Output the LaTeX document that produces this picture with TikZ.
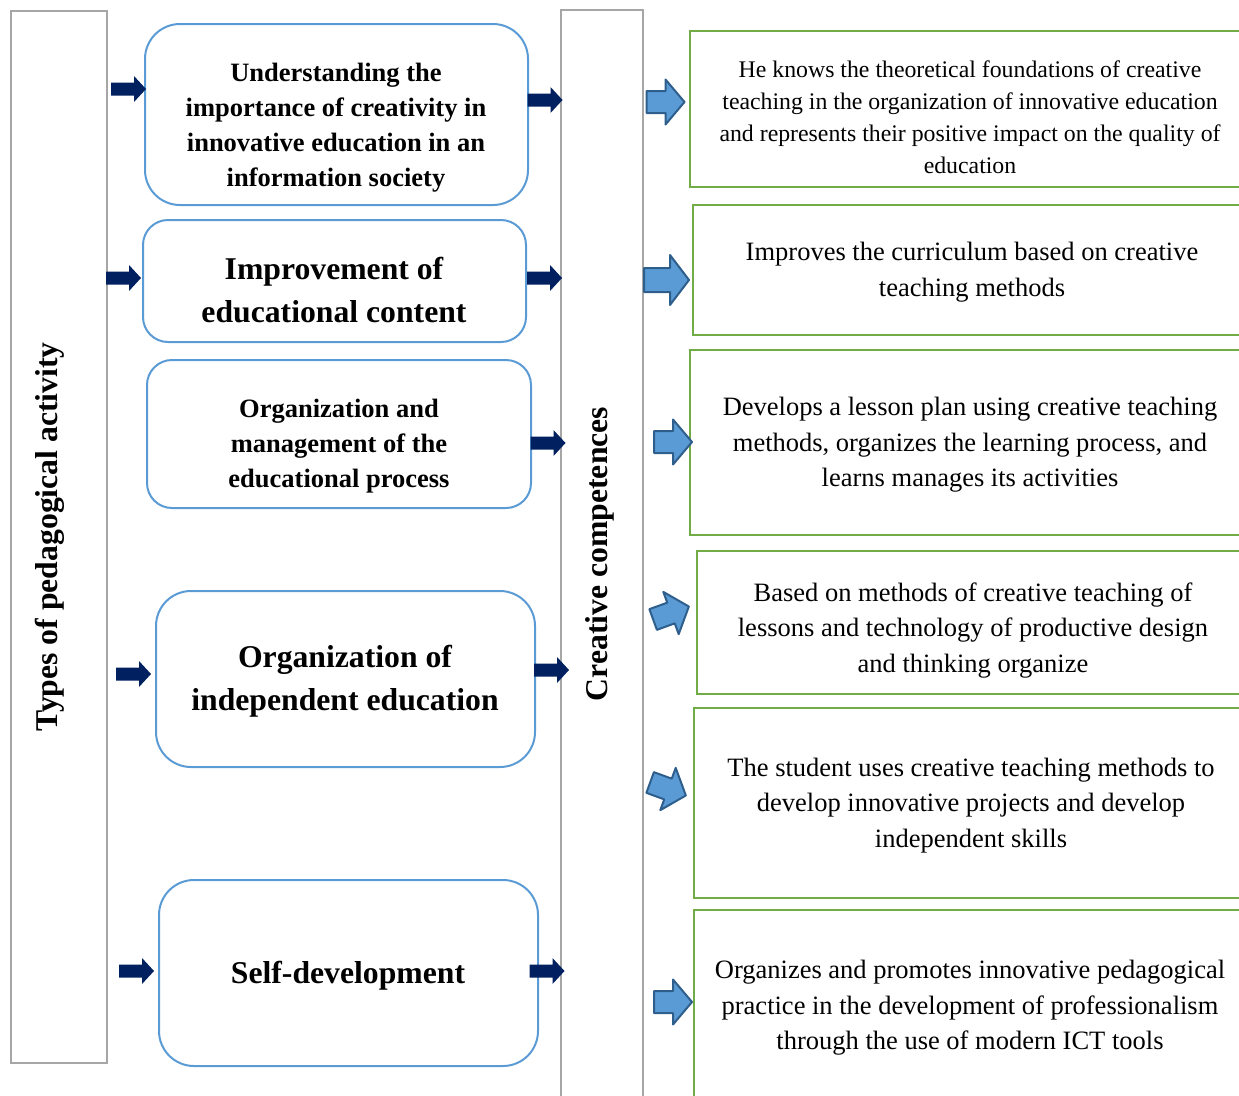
\documentclass[tikz,border=0pt]{standalone}
\usepackage{fontspec}
\setmainfont{Liberation Serif}
\definecolor{grayline}{HTML}{A6A6A6}
\definecolor{boxblue}{HTML}{5B9BD5}
\definecolor{boxgreen}{HTML}{70AD47}
\definecolor{navy}{HTML}{002060}
\definecolor{arrblue}{HTML}{5B9BD5}
\definecolor{arrdark}{HTML}{2E5E8C}
\tikzset{
  graybox/.style={draw=grayline, line width=2pt, inner sep=0pt},
  bluebox/.style={draw=boxblue, line width=2pt, inner sep=0pt},
  greenbox/.style={draw=boxgreen, line width=2pt, inner sep=0pt},
  btext/.style={align=center, inner sep=0pt, font=\bfseries\fontsize{26.5}{35}\selectfont},
  bigtext/.style={align=center, inner sep=0pt, font=\bfseries\fontsize{31.7}{43}\selectfont},
  gtext/.style={align=center, inner sep=0pt, font=\fontsize{26.5}{35.5}\selectfont},
  arrline/.style={fill=arrblue, draw=arrdark, line width=2pt, line join=round},
  navyarrow/.pic={\fill[navy] (-17.5,-6.5) -- (5.5,-6.5) -- (5.5,-13) -- (17.5,0) -- (5.5,13) -- (5.5,6.5) -- (-17.5,6.5) -- cycle;},
  bluearrow/.pic={\filldraw[arrline] (-19,-11) -- (0,-11) -- (0,-22.5) -- (19,0) -- (0,22.5) -- (0,11) -- (-19,11) -- cycle;},
  bigbluearrow/.pic={\filldraw[arrline] (-22.5,-12) -- (3.5,-12) -- (3.5,-25) -- (22.5,0) -- (3.5,25) -- (3.5,12) -- (-22.5,12) -- cycle;}
}
\begin{document}
\begin{tikzpicture}[x=1pt, y=-1pt]
\useasboundingbox (0,0) rectangle (1239,1095);
% gray columns
\node[graybox, minimum width=96, minimum height=1052] (left) at (59,537) {};
\node[rotate=90, inner sep=0pt, font=\bfseries\fontsize{31.7}{38}\selectfont] (lefttxt) at (50,537) {Types of pedagogical activity};
\node[graybox, minimum width=82, minimum height=1110] (mid) at (602,565) {};
\node[rotate=90, inner sep=0pt, font=\bfseries\fontsize{31.7}{38}\selectfont] (midtxt) at (600,554) {Creative competences};
% blue boxes
\node[bluebox, rounded corners=35pt, minimum width=383, minimum height=181] (b1) at (336.5,114.5) {};
\node[btext] (t1) at (336,128) {Understanding the\\importance of creativity in\\innovative education in an\\information society};
\node[bluebox, rounded corners=25pt, minimum width=383, minimum height=122] (b2) at (334.5,281) {};
\node[bigtext] (t2) at (334,290) {Improvement of\\educational content};
\node[bluebox, rounded corners=25pt, minimum width=384, minimum height=148] (b3) at (339,434) {};
\node[btext] (t3) at (339,446) {Organization and\\management of the\\educational process};
\node[bluebox, rounded corners=35pt, minimum width=379, minimum height=176] (b4) at (345.5,679) {};
\node[bigtext] (t4) at (345,681.5) {Organization of\\independent education};
\node[bluebox, rounded corners=35pt, minimum width=379, minimum height=186] (b5) at (348.5,973) {};
\node[bigtext] (t5) at (348,976) {Self-development};
% green boxes
\node[greenbox, minimum width=570, minimum height=156] (g1) at (975,109) {};
\node[align=center, inner sep=0pt, font=\fontsize{23.8}{32}\selectfont] (s1) at (970,117) {He knows the theoretical foundations of creative\\teaching in the organization of innovative education\\and represents their positive impact on the quality of\\education};
\node[greenbox, minimum width=567, minimum height=130] (g2) at (976.5,270) {};
\node[gtext] (s2) at (972,272) {Improves the curriculum based on creative\\teaching methods};
\node[greenbox, minimum width=570, minimum height=185] (g3) at (975,442.5) {};
\node[gtext] (s3) at (970,445) {Develops a lesson plan using creative teaching\\methods, organizes the learning process, and\\learns manages its activities};
\node[greenbox, minimum width=563, minimum height=143] (g4) at (978.5,622.5) {};
\node[gtext] (s4) at (973,630.5) {Based on methods of creative teaching of\\lessons and technology of productive design\\and thinking organize};
\node[greenbox, minimum width=566, minimum height=190] (g5) at (977,803) {};
\node[gtext] (s5) at (971,805.5) {The student uses creative teaching methods to\\develop innovative projects and develop\\independent skills};
\node[greenbox, minimum width=566, minimum height=210] (g6) at (977,1015) {};
\node[gtext] (s6) at (970,1008) {Organizes and promotes innovative pedagogical\\practice in the development of professionalism\\through the use of modern ICT tools};
% navy arrows
\pic (la1) at (128.5,89) {navyarrow};
\pic (la2) at (123.5,278) {navyarrow};
\pic (la4) at (133.5,674) {navyarrow};
\pic (la5) at (136.5,971) {navyarrow};
\pic (ra1) at (545,100) {navyarrow};
\pic (ra2) at (544.5,278) {navyarrow};
\pic (ra3) at (548,443) {navyarrow};
\pic (ra4) at (551.5,670) {navyarrow};
\pic (ra5) at (547,971) {navyarrow};
% blue arrows
\pic (ba1) at (665.5,102) {bluearrow};
\pic (ba2) at (666.5,280) {bigbluearrow};
\pic (ba3) at (673,442) {bluearrow};
\pic[rotate=20] (ba4) at (671,613) {bluearrow};
\pic[rotate=-20] (ba5) at (668,789) {bluearrow};
\pic (ba6) at (673,1002) {bluearrow};
\end{tikzpicture}
\end{document}
